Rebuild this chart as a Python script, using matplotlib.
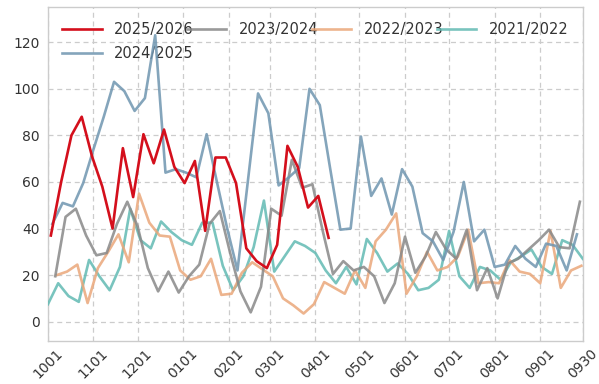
import matplotlib
matplotlib.use('Agg')
import matplotlib.pyplot as plt
import numpy as np
import pandas as pd

plt.rcParams['font.family'] = ['DejaVu Sans']
plt.rcParams['font.size'] = 10

seasons = ['2025/2026', '2024/2025', '2023/2024', '2022/2023', '2021/2022']
first_week = ['2025-10-03', '2024-10-04', '2023-10-06', '2022-10-07', '2021-10-01']
colors = ['#d40f1c', '#6f95b0', '#888888', '#eaa77a', '#62bab3']
alphas = [1.0, 0.85, 0.85, 0.85, 0.85]

s2025 = [37, 60, 80, 88, 71, 58, 40, 74.5, 53.5, 80.5, 68, 82.5, 66.5, 59.5,
         69, 39, 70.5, 70.5, 59.5, 31.5, 26, 23, 33, 75.5, 66.5, 49, 54, 36]
s2024 = [42, 51, 49.5, 59.5, 74, 88, 103, 99, 90.5, 96, 123, 64, 65.5, 64,
         62, 80.5, 60, 40, 22, 60, 98, 89.5, 58.5, 62, 66, 100, 93, 66,
         39.5, 40, 79.5, 54, 61.5, 46, 65.5, 58, 38, 34.5, 26.5, 38.5, 60, 34.5,
         39.5, 23.5, 24.5, 32.5, 27, 23.5, 33.5, 32.5, 22, 37.5]
s2023 = [19.5, 45, 48.5, 37, 28.5, 29.5, 42, 51.5, 41, 23, 13, 21.5, 12.5, 19.5,
         24.5, 42, 47.5, 29.5, 13, 4, 15, 48.5, 45.5, 69.5, 57.5, 59, 39, 20.5,
         26, 22, 23.5, 19.5, 8, 16.5, 36.5, 21, 28, 38.5, 31, 27, 39.5, 13.5,
         23, 10, 25, 27, 31, 35, 39.5, 32, 31.5, 51.5]
s2022 = [20, 21.5, 24.5, 8, 23, 30, 37.5, 25.5, 55, 42.5, 37, 36.5, 22, 18,
         19.5, 27, 11.5, 12, 21, 25.5, 22.5, 19.5, 10, 7, 3.5, 7.5, 17, 14.5,
         12, 22, 14.5, 34.5, 39.5, 46.5, 12, 19.5, 30, 22, 23.5, 28, 39.5, 16.5,
         17, 16.5, 26.5, 21.5, 20.5, 16.5, 39, 14.5, 22, 24]
s2021 = [7.5, 16.5, 11, 8.5, 26.5, 19.5, 13.5, 23.5, 48.5, 35, 31.5, 43, 38.5, 35,
         33, 42.5, 42.5, 24, 13.5, 19.5, 32, 52, 21.5, 28, 34.5, 32.5, 29.5, 22,
         16.5, 23.5, 16, 35.5, 29.5, 21.5, 25, 20.5, 13.5, 14.5, 18, 39, 19.5, 14.5,
         23.5, 22, 18, 25.5, 28, 31, 23.5, 20.5, 35, 33, 27]
values = [s2025, s2024, s2023, s2022, s2021]

tick_labels = ['1001', '1101', '1201', '0101', '0201', '0301', '0401',
               '0501', '0601', '0701', '0801', '0901', '0930']
tick_dates = ['2021-10-01', '2021-11-01', '2021-12-01', '2022-01-01', '2022-02-01',
              '2022-03-01', '2022-04-01', '2022-05-01', '2022-06-01', '2022-07-01',
              '2022-08-01', '2022-09-01', '2022-09-30']

fig = plt.figure(figsize=(5.99, 3.84), dpi=100)
ax = fig.add_axes([0.080, 0.112, 0.893, 0.869])

lines = {}
for i in reversed(range(len(seasons))):
    start = pd.Timestamp(first_week[i])
    season_start = pd.Timestamp(f'{seasons[i][:4]}-10-01')
    dates = pd.date_range(start, periods=len(values[i]), freq='7D')
    x = np.asarray((dates - season_start).days)
    ln, = ax.plot(x, values[i], color=colors[i], alpha=alphas[i], lw=1.9,
                  label=seasons[i], zorder=3 + (5 - i))
    lines[seasons[i]] = ln

ref = pd.Timestamp('2021-10-01')
ticks = [(pd.Timestamp(d) - ref).days for d in tick_dates]
ax.set_xticks(ticks)
ax.set_xticklabels(tick_labels, rotation=45, ha='center', fontsize=10, color='#333333')
ax.set_xlim(0, 364)
ax.set_ylim(-8.3, 135)
ax.set_yticks(range(0, 121, 20))
ax.tick_params(axis='y', labelsize=10, labelcolor='#333333', length=0, pad=6)
ax.tick_params(axis='x', length=0, pad=4)

ax.grid(True, linestyle=(0, (4, 3)), color='#cccccc', lw=0.9)
ax.set_axisbelow(True)
for sp in ax.spines.values():
    sp.set_color('#cccccc')
    sp.set_linewidth(1.0)

ax.legend([lines[s] for s in seasons], seasons, loc='upper left', ncol=4,
          frameon=False, fontsize=10.5, handlelength=2.7, columnspacing=-0.45,
          labelspacing=0.6, handletextpad=0.85, borderaxespad=0.4,
          bbox_to_anchor=(0.005, 0.99), labelcolor='#333333')

fig.savefig('out.png', dpi=100)
